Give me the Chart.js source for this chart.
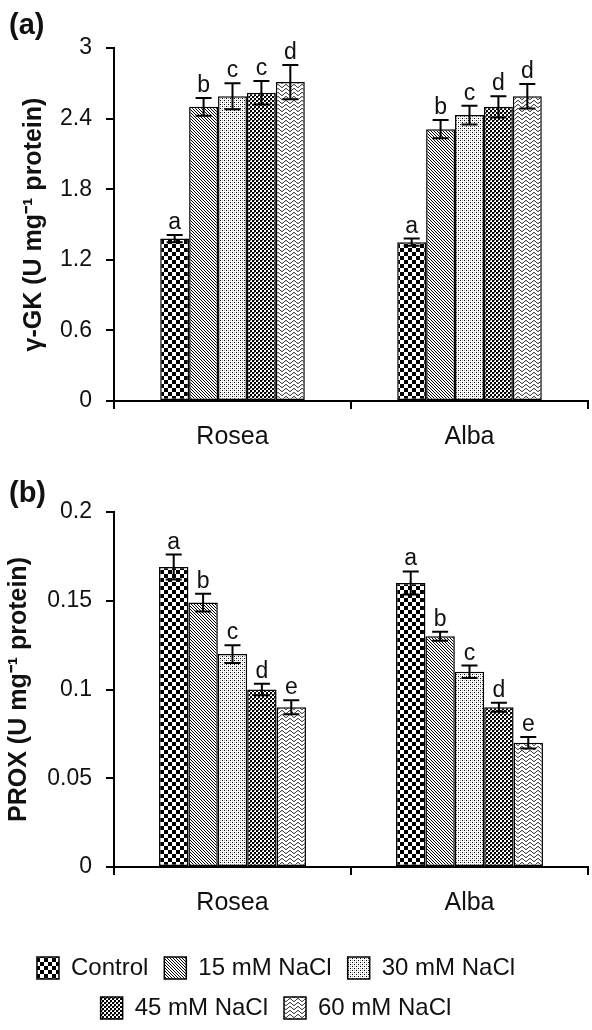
<!DOCTYPE html>
<html>
<head>
<meta charset="utf-8">
<script src="https://cdn.jsdelivr.net/npm/chart.js@4.4.0/dist/chart.umd.min.js"></script>
<style>
  body { margin: 0; background: #fff; overflow: hidden; width: 592px; height: 1030px; position: relative; }
  canvas { position: absolute; }
  .panel { position: absolute; left: 9px; font: bold 29px "Liberation Sans", Arial, sans-serif; line-height: 1; color: #111; }
</style>
</head>
<body>
<canvas id="chartA" width="592" height="470" style="left:0;top:0"></canvas>
<canvas id="chartB" width="628" height="560" style="left:-36px;top:470px"></canvas>
<div class="panel" style="top:10px">(a)</div>
<div class="panel" style="top:478px">(b)</div>
<script>
const cultivars = ['Rosea', 'Alba'];
const treatments = ['Control', '15 mM NaCl', '30 mM NaCl', '45 mM NaCl', '60 mM NaCl'];

// (a) γ-GK, each array is [Rosea, Alba]
const gkControl = [1.38, 1.35];
const gk15 = [2.50, 2.31];
const gk30 = [2.59, 2.43];
const gk45 = [2.62, 2.50];
const gk60 = [2.71, 2.59];
const gkErr = [[0.03, 0.03], [0.075, 0.078], [0.11, 0.08], [0.10, 0.09], [0.145, 0.105]];
const gkLetters = [['a', 'a'], ['b', 'b'], ['c', 'c'], ['c', 'd'], ['d', 'd']];
const gkTicks = [0, 0.6, 1.2, 1.8, 2.4, 3];

// (b) PROX
const proxControl = [0.169, 0.160];
const prox15 = [0.149, 0.130];
const prox30 = [0.120, 0.110];
const prox45 = [0.100, 0.090];
const prox60 = [0.090, 0.070];
const proxErr = [[0.007, 0.0065], [0.005, 0.0025], [0.005, 0.0035], [0.0033, 0.0025], [0.004, 0.0033]];
const proxLetters = [['a', 'a'], ['b', 'b'], ['c', 'c'], ['d', 'd'], ['e', 'e']];
const proxTicks = [0, 0.05, 0.1, 0.15, 0.2];

const FONT = '"Liberation Sans", Arial, sans-serif';
Chart.defaults.font.family = FONT;
Chart.defaults.color = '#111';

// black & white fill patterns like the printed figure
function tile(ctx, w, h, draw) {
  const c = document.createElement('canvas');
  c.width = w; c.height = h;
  const g = c.getContext('2d');
  g.fillStyle = '#fff';
  g.fillRect(0, 0, w, h);
  draw(g);
  return ctx.createPattern(c, 'repeat');
}

function makePatterns(ctx) {
  const checker = tile(ctx, 8, 8, g => {
    g.fillStyle = '#000';
    g.fillRect(0, 0, 4, 4);
    g.fillRect(4, 4, 4, 4);
  });
  const hatch = tile(ctx, 3, 3, g => {
    g.strokeStyle = '#000';
    g.lineWidth = 1;
    g.beginPath();
    g.moveTo(-1, -1); g.lineTo(4, 4);
    g.moveTo(-1, 2); g.lineTo(1, 4);
    g.moveTo(2, -1); g.lineTo(4, 1);
    g.stroke();
  });
  const dots = tile(ctx, 4, 4, g => {
    g.fillStyle = '#000';
    g.fillRect(0, 0, 1, 1);
    g.fillRect(2, 2, 1, 1);
    g.fillStyle = '#aaa';
    g.fillRect(2, 0, 1, 1);
    g.fillRect(0, 2, 1, 1);
  });
  const fine = tile(ctx, 4, 4, g => {
    g.fillStyle = '#000';
    g.fillRect(0, 0, 2, 2);
    g.fillRect(2, 2, 2, 2);
    g.fillStyle = '#777';
    g.fillRect(2, 0, 1, 1);
  });
  const wave = tile(ctx, 8, 4, g => {
    g.strokeStyle = '#000';
    g.lineWidth = 1;
    g.beginPath();
    for (let x = 0; x <= 8; x += 0.5) {
      const y = 2 + 1.4 * Math.sin(2 * Math.PI * x / 8);
      if (x === 0) g.moveTo(x, y); else g.lineTo(x, y);
    }
    g.stroke();
  });
  return [checker, hatch, dots, fine, wave];
}

const errorBars = {
  id: 'errorBars',
  afterDatasetsDraw(chart) {
    const ctx = chart.ctx;
    const y = chart.scales.y;
    ctx.save();
    ctx.strokeStyle = '#000';
    ctx.lineWidth = 2;
    ctx.fillStyle = '#111';
    ctx.font = '23px ' + FONT;
    ctx.textAlign = 'center';
    ctx.textBaseline = 'alphabetic';
    chart.data.datasets.forEach((ds, i) => {
      chart.getDatasetMeta(i).data.forEach((bar, j) => {
        const v = ds.data[j], e = ds.errors[j];
        const hi = y.getPixelForValue(v + e);
        const lo = y.getPixelForValue(v - e);
        ctx.beginPath();
        ctx.moveTo(bar.x, hi); ctx.lineTo(bar.x, lo);
        ctx.moveTo(bar.x - 8, hi); ctx.lineTo(bar.x + 8, hi);
        ctx.moveTo(bar.x - 8, lo); ctx.lineTo(bar.x + 8, lo);
        ctx.stroke();
        ctx.fillText(ds.letters[j], bar.x, hi - 6);
      });
    });
    ctx.restore();
  }
};

function tickLabel(v) {
  return String(+Number(v).toFixed(2));
}

function buildChart(canvasId, opts) {
  const ctx = document.getElementById(canvasId).getContext('2d');
  const pats = makePatterns(ctx);
  return new Chart(ctx, {
    type: 'bar',
    data: {
      labels: cultivars,
      datasets: treatments.map((name, i) => ({
        label: name,
        data: opts.values[i],
        errors: opts.errors[i],
        letters: opts.letters[i],
        backgroundColor: pats[i],
        borderColor: '#000',
        borderWidth: 1.5,
        borderSkipped: false,
        categoryPercentage: opts.catPct,
        barPercentage: 1
      }))
    },
    options: {
      responsive: false,
      animation: false,
      layout: { padding: opts.padding },
      plugins: {
        tooltip: { enabled: false },
        legend: {
          display: opts.legend,
          position: 'bottom',
          labels: {
            font: { size: 24 },
            color: '#111',
            boxWidth: 22,
            boxHeight: 22,
            padding: 16
          }
        }
      },
      scales: {
        x: {
          offset: true,
          grid: { offset: true, drawOnChartArea: false, tickLength: 8, color: '#000', lineWidth: 2 },
          border: { display: true, color: '#000', width: 2 },
          ticks: { font: { size: 25 }, color: '#111', padding: 13 },
          afterFit: s => { s.height = opts.xHeight; }
        },
        y: {
          min: opts.ticks[0],
          max: opts.ticks[opts.ticks.length - 1],
          afterBuildTicks: s => { s.ticks = opts.ticks.map(v => ({ value: v })); },
          grid: { drawOnChartArea: false, tickLength: 8, color: '#000', lineWidth: 2 },
          border: { display: true, color: '#000', width: 2 },
          ticks: { font: { size: 23 }, color: '#111', padding: 14, callback: tickLabel },
          title: {
            display: true,
            text: opts.title,
            font: { size: 25, weight: 'bold' },
            color: '#111',
            padding: { top: opts.titlePad, bottom: 0 }
          },
          afterFit: s => { s.width = opts.yWidth; }
        }
      }
    },
    plugins: [errorBars]
  });
}

buildChart('chartA', {
  values: [gkControl, gk15, gk30, gk45, gk60],
  errors: gkErr,
  letters: gkLetters,
  ticks: gkTicks,
  title: 'γ-GK (U mg⁻¹ protein)',
  catPct: 0.61,
  legend: false,
  padding: { top: 48, right: 4, bottom: 0, left: 0 },
  xHeight: 69,
  yWidth: 114,
  titlePad: 19
});

buildChart('chartB', {
  values: [proxControl, prox15, prox30, prox45, prox60],
  errors: proxErr,
  letters: proxLetters,
  ticks: proxTicks,
  title: 'PROX (U mg⁻¹ protein)',
  catPct: 0.62,
  legend: true,
  padding: { top: 42, right: 4, bottom: 0, left: 0 },
  xHeight: 73,
  yWidth: 150,
  titlePad: 40
});
</script>
</body>
</html>
